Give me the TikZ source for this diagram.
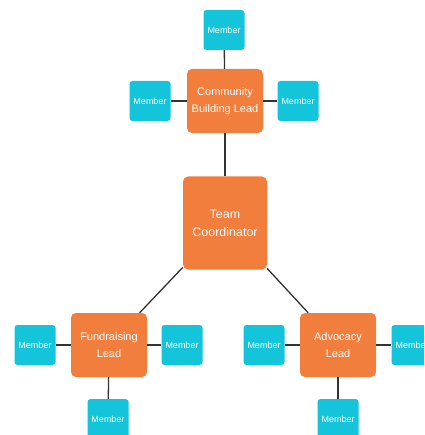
\documentclass[tikz,border=0pt]{standalone}
\usepackage{fontspec}
\setmainfont{Liberation Sans}
\usepackage{xcolor}
\usepackage{tikz}

\definecolor{leadorange}{HTML}{F27E3E}
\definecolor{membercyan}{HTML}{14C4DA}
\definecolor{linkgray}{HTML}{333333}

\tikzset{
  member/.style={fill=membercyan, rounded corners=3pt, minimum width=41pt, minimum height=40pt,
    inner sep=0pt, text=white, font=\fontsize{9}{10}\selectfont},
  lead/.style={fill=leadorange, rounded corners=5pt, minimum width=76pt, minimum height=64pt,
    inner sep=0pt, text=white, align=center, font=\fontsize{11}{17}\selectfont},
  coord/.style={lead, minimum width=84pt, minimum height=93pt, font=\fontsize{12.5}{18}\selectfont},
  link/.style={linkgray, line width=1.3pt}
}

\begin{document}
\begin{tikzpicture}[x=1pt,y=-1pt]
\useasboundingbox (0,0) rectangle (424,435);
\clip (0,0) rectangle (424,435);
% coordinator and leads
\node[coord] (team) at (225,223) {Team\\Coordinator};
\node[lead] (comm) at (225,101) {Community\\Building Lead};
\node[lead] (fund) at (109,345) {Fundraising\\Lead};
\node[lead] (advo) at (338,345) {Advocacy\\Lead};
% members
\node[member] (commT) at (224,30) {Member};
\node[member] (commL) at (150,101) {Member};
\node[member] (commR) at (298,101) {Member};
\node[member] (fundL) at (35,345) {Member};
\node[member] (fundR) at (182,345) {Member};
\node[member] (fundB) at (108,419) {Member};
\node[member] (advoL) at (264,345) {Member};
\node[member] (advoR) at (412,345) {Member};
\node[member] (advoB) at (338,419) {Member};
% links
\draw[link] (team) -- (comm);
\draw[link] (team) -- (fund);
\draw[link] (team) -- (advo);
\draw[link] (comm) -- (commT);
\draw[link] (comm) -- (commL);
\draw[link] (comm) -- (commR);
\draw[link] (fund) -- (fundL);
\draw[link] (fund) -- (fundR);
\draw[link] (fund) -- (fundB);
\draw[link] (advo) -- (advoL);
\draw[link] (advo) -- (advoR);
\draw[link] (advo) -- (advoB);
\end{tikzpicture}
\end{document}
